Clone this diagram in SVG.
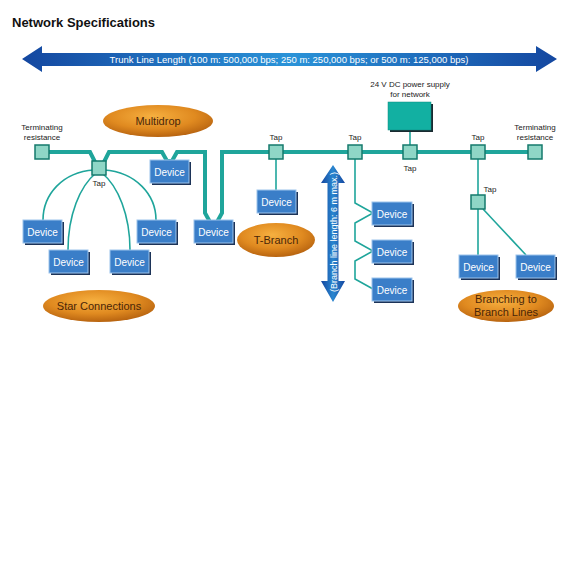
<svg xmlns="http://www.w3.org/2000/svg" width="578" height="578" viewBox="0 0 578 578">
<defs>
<linearGradient id="gH" x1="0" y1="0" x2="1" y2="0">
<stop offset="0" stop-color="#1447a0"/><stop offset="0.5" stop-color="#2a93d8"/><stop offset="1" stop-color="#1447a0"/>
</linearGradient>
<linearGradient id="gV" x1="0" y1="0" x2="1" y2="0">
<stop offset="0" stop-color="#1447a0"/><stop offset="0.5" stop-color="#2a86cf"/><stop offset="1" stop-color="#1447a0"/>
</linearGradient>
<radialGradient id="gO" cx="0.45" cy="0.35" r="0.65">
<stop offset="0" stop-color="#f6b040"/><stop offset="0.6" stop-color="#e08a20"/><stop offset="1" stop-color="#b86410"/>
</radialGradient>
<style>
.t{font-family:"Liberation Sans",Arial,sans-serif}
.trunk{fill:none;stroke:#1fa59b;stroke-width:4;stroke-linejoin:miter}
.br{fill:none;stroke:#1fa59b;stroke-width:1.6}
.tap{fill:#8fd6c6;stroke:#157a6c;stroke-width:1.5}
.dev rect.b{fill:#3a7ec8;stroke:#9cc4ec;stroke-width:1}
.dev rect.s{fill:#1c3358}
.dev text{fill:#fff;font-size:10px;text-anchor:middle}
.lbl{fill:#222;font-size:8px;text-anchor:middle}
.ell{fill:url(#gO)}
.etx{fill:#4a2608;font-size:11px;text-anchor:middle}
</style>
</defs>
<rect width="578" height="578" fill="#fff"/>
<text class="t" x="12" y="27" font-size="13" font-weight="bold" fill="#111">Network Specifications</text>

<g id="trunk-arrow">
<path d="M22,59 L42,46 L42,53 L536,53 L536,46 L557,59 L536,72 L536,66 L42,66 L42,72 Z" fill="url(#gH)"/>
<text class="t" x="289" y="62.5" font-size="9.5" fill="#fff" text-anchor="middle">Trunk Line Length (100 m: 500,000 bps; 250 m: 250,000 bps; or 500 m: 125,000 bps)</text>
</g>

<g id="branch-arrow">
<path d="M333,165 L345,183 L338.5,183 L338.5,281 L345,281 L333,302 L321,281 L327.5,281 L327.5,183 L321,183 Z" fill="url(#gV)"/>
<text class="t" transform="translate(336.5,232) rotate(-90)" font-size="9" fill="#fff" text-anchor="middle">(Branch line length: 6 m max.)</text>
</g>

<g id="connectors">
<path class="trunk" d="M42,152 H90 L96,164 L103,164 L109,152 H162 L167,161 L172,161 L177,152 H205 V213 L210,222 L217,222 L222,213 V152 H536"/>
<path class="br" d="M94,170 C62,172 43,195 43,220"/>
<path class="br" d="M96,173 C80,186 68,215 68,250"/>
<path class="br" d="M102,173 C118,186 130,215 130,250"/>
<path class="br" d="M104,170 C136,172 156,195 156,220"/>
<path class="br" d="M276,159 V190"/>
<path class="br" d="M355,159 V203 L373,213 L355,223 V241 L373,251 L355,261 V279 L373,289"/>
<path class="br" d="M410,131 V145"/>
<path class="br" d="M478,159 V195"/>
<path class="br" d="M478,209 V255"/>
<path class="br" d="M483,209 L526,255"/>
</g>

<g id="term-left"><rect class="tap" x="35" y="145" width="14" height="14"/>
<text class="t lbl" x="42" y="130">Terminating</text><text class="t lbl" x="42" y="140">resistance</text></g>
<g id="term-right"><rect class="tap" x="528" y="145" width="14" height="14"/>
<text class="t lbl" x="535" y="130">Terminating</text><text class="t lbl" x="535" y="140">resistance</text></g>

<g id="tap-star"><rect class="tap" x="92" y="161" width="14" height="14"/><text class="t lbl" x="99" y="186">Tap</text></g>
<g id="tap-t"><rect class="tap" x="269" y="145" width="14" height="14"/><text class="t lbl" x="276" y="140">Tap</text></g>
<g id="tap-daisy"><rect class="tap" x="348" y="145" width="14" height="14"/><text class="t lbl" x="355" y="140">Tap</text></g>
<g id="tap-power"><rect class="tap" x="403" y="145" width="14" height="14"/><text class="t lbl" x="410" y="171">Tap</text></g>
<g id="tap-branch"><rect class="tap" x="471" y="145" width="14" height="14"/><text class="t lbl" x="478" y="140">Tap</text></g>
<g id="tap-sub"><rect class="tap" x="471" y="195" width="14" height="14"/><text class="t lbl" x="490" y="192">Tap</text></g>

<g id="power">
<rect x="390" y="104" width="43" height="28" fill="#1a2a30"/>
<rect x="388" y="102" width="43" height="28" fill="#12b0a2" stroke="#0e8a80" stroke-width="0.5"/>
<text class="t lbl" x="410" y="87">24 V DC power supply</text>
<text class="t lbl" x="410" y="97">for network</text>
</g>

<g id="dev-md1" class="dev t"><rect class="s" x="152" y="162" width="39" height="23"/><rect class="b" x="150" y="160" width="39" height="23"/><text x="169.5" y="175.5">Device</text></g>
<g id="dev-md2" class="dev t"><rect class="s" x="196" y="222" width="39" height="23"/><rect class="b" x="194" y="220" width="39" height="23"/><text x="213.5" y="235.5">Device</text></g>
<g id="dev-s1" class="dev t"><rect class="s" x="25" y="222" width="39" height="23"/><rect class="b" x="23" y="220" width="39" height="23"/><text x="42.5" y="235.5">Device</text></g>
<g id="dev-s2" class="dev t"><rect class="s" x="51" y="252" width="39" height="23"/><rect class="b" x="49" y="250" width="39" height="23"/><text x="68.5" y="265.5">Device</text></g>
<g id="dev-s3" class="dev t"><rect class="s" x="112" y="252" width="39" height="23"/><rect class="b" x="110" y="250" width="39" height="23"/><text x="129.5" y="265.5">Device</text></g>
<g id="dev-s4" class="dev t"><rect class="s" x="139" y="222" width="39" height="23"/><rect class="b" x="137" y="220" width="39" height="23"/><text x="156.5" y="235.5">Device</text></g>
<g id="dev-t" class="dev t"><rect class="s" x="259" y="192" width="39" height="23"/><rect class="b" x="257" y="190" width="39" height="23"/><text x="276.5" y="205.5">Device</text></g>
<g id="dev-d1" class="dev t"><rect class="s" x="374" y="204" width="40" height="23"/><rect class="b" x="372" y="202" width="40" height="23"/><text x="392" y="217.5">Device</text></g>
<g id="dev-d2" class="dev t"><rect class="s" x="374" y="242" width="40" height="23"/><rect class="b" x="372" y="240" width="40" height="23"/><text x="392" y="255.5">Device</text></g>
<g id="dev-d3" class="dev t"><rect class="s" x="374" y="280" width="40" height="23"/><rect class="b" x="372" y="278" width="40" height="23"/><text x="392" y="293.5">Device</text></g>
<g id="dev-b1" class="dev t"><rect class="s" x="461" y="257" width="39" height="23"/><rect class="b" x="459" y="255" width="39" height="23"/><text x="478.5" y="270.5">Device</text></g>
<g id="dev-b2" class="dev t"><rect class="s" x="518" y="257" width="39" height="23"/><rect class="b" x="516" y="255" width="39" height="23"/><text x="535.5" y="270.5">Device</text></g>

<g id="lbl-multidrop"><ellipse class="ell" cx="158" cy="121" rx="55" ry="16"/><text class="t etx" x="158" y="125">Multidrop</text></g>
<g id="lbl-tbranch"><ellipse class="ell" cx="276" cy="240" rx="39" ry="17"/><text class="t etx" x="276" y="244">T-Branch</text></g>
<g id="lbl-star"><ellipse class="ell" cx="99" cy="306" rx="56" ry="16"/><text class="t etx" x="99" y="310">Star Connections</text></g>
<g id="lbl-branching"><ellipse class="ell" cx="506" cy="306" rx="48" ry="16"/><text class="t etx" x="506" y="303">Branching to</text><text class="t etx" x="506" y="316">Branch Lines</text></g>
</svg>
